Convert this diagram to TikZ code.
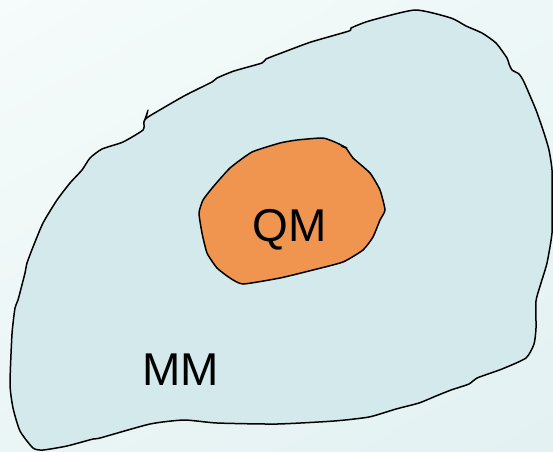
\documentclass[tikz,border=0pt]{standalone}
\usepackage{fontspec}
\setmainfont{Liberation Sans}
\usetikzlibrary{shadings}
\definecolor{bgA}{HTML}{F6FBFB}
\definecolor{bgB}{HTML}{EDF7F7}
\definecolor{bgC}{HTML}{EAF5F5}
\definecolor{bgD}{HTML}{E3F1F2}
\definecolor{mmfill}{HTML}{D3E9EB}
\definecolor{qmfill}{HTML}{F09550}
\tikzset{
  region/.style={draw=black, line width=1.5pt, line join=round},
  label/.style={font=\fontsize{46}{46}\selectfont, text=black, inner sep=0pt}
}
\begin{document}
\begin{tikzpicture}[x=1pt,y=-1pt]
\useasboundingbox (0,0) rectangle (553,451);
\shade[upper left=bgA, upper right=bgB, lower left=bgC, lower right=bgD] (0,0) rectangle (553,451);
% MM region
\draw[region, fill=mmfill] plot[smooth cycle, tension=0.35] coordinates {
 (102,149) (123,142) (143,130) (144,122) (148,117) (184,96) (212,82) (217,78)
 (234,71) (262,63) (266,59) (284,52) (311,42) (349,31) (351,28) (369,21) (415,10)
 (451,18) (466,26) (482,33) (496,43) (507,58) (509,64) (512,70) (519,74) (524,82)
 (536,110) (544,133) (549,150) (552,170) (552,200) (552,233) (547,263) (541,283)
 (536,301) (536,328) (534,344) (526,358) (502,369) (477,378) (469,384) (451,390)
 (436,396) (419,403) (396,409) (369,417) (334,421) (277,424) (217,423) (184,420)
 (150,424) (100,438) (93,439) (67,446) (43,450) (33,448) (20,431) (13,408) (10,384)
 (12,334) (15,308) (18,300) (25,273) (27,263) (33,247) (43,223) (57,200) (70,183)
 (82,170) (90,158)};
\draw[black, line width=1.2pt, line join=round] (144,122) -- (148,110) -- (146,119);
% QM region
\draw[region, fill=qmfill] plot[smooth cycle, tension=0.3] coordinates {
 (252,152) (280,143) (297,140) (323,138) (337,143) (346,148) (353,158) (370,173)
 (380,190) (385,210) (380,220) (373,237) (363,250) (343,262) (313,270) (280,278)
 (243,284) (230,278) (217,268) (207,253) (202,233) (199,213) (203,200) (213,187)
 (230,168)};
\draw[black, line width=1.6pt] (341,146) -- (347,148);
\node[label] (qm) at (290,230) {QM};
\node[label] (mm) at (180.5,370) {MM};
\end{tikzpicture}
\end{document}
